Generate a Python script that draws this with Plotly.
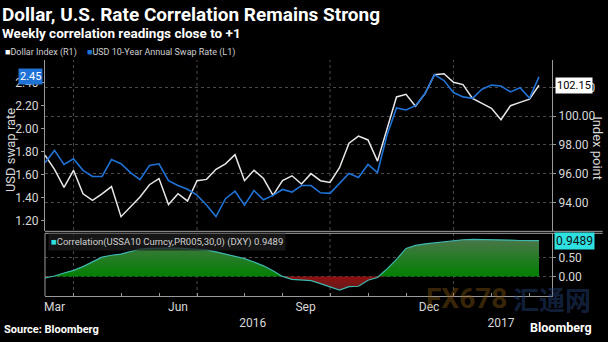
import pandas as pd
import plotly.graph_objects as go

# ---------------- data ----------------
dates = pd.date_range("2016-03-11", periods=53, freq="7D")

swap_rate = [1.704, 1.811, 1.689, 1.738, 1.638, 1.585, 1.585, 1.732, 1.695, 1.619,
             1.557, 1.681, 1.695, 1.548, 1.506, 1.474, 1.423, 1.338, 1.237, 1.392,
             1.457, 1.336, 1.463, 1.383, 1.421, 1.472, 1.449, 1.506, 1.506, 1.443,
             1.438, 1.528, 1.610, 1.576, 1.689, 1.619, 1.944, 2.179, 2.162, 2.199,
             2.304, 2.468, 2.417, 2.313, 2.275, 2.262, 2.341, 2.377, 2.369, 2.318,
             2.355, 2.264, 2.448]

dollar_index = [97.29, 96.30, 95.06, 96.24, 94.61, 94.16, 94.61, 95.11, 93.02, 93.70,
                94.38, 95.24, 95.67, 93.86, 94.61, 94.11, 95.52, 95.61, 96.31, 96.69,
                97.33, 95.52, 96.24, 95.67, 94.50, 95.52, 95.86, 95.29, 96.01, 95.52,
                95.40, 96.42, 98.12, 98.62, 98.35, 96.88, 99.03, 101.34, 101.52, 100.69,
                101.57, 102.88, 102.95, 102.36, 102.20, 101.23, 100.89, 100.55, 99.76, 100.73,
                100.96, 101.18, 102.15]

correlation = [-0.04, 0.01, 0.09, 0.16, 0.26, 0.39, 0.51, 0.56, 0.59, 0.66,
               0.72, 0.74, 0.75, 0.75, 0.75, 0.74, 0.73, 0.70, 0.65, 0.59,
               0.53, 0.47, 0.38, 0.28, 0.15, 0.00, -0.08, -0.10, -0.11, -0.19,
               -0.28, -0.36, -0.27, -0.26, -0.10, -0.03, 0.20, 0.45, 0.74, 0.82,
               0.86, 0.89, 0.92, 0.95, 0.97, 0.98, 0.98, 0.97, 0.96, 0.96,
               0.95, 0.95, 0.9489]

left_ticks = [1.2, 1.4, 1.6, 1.8, 2.0, 2.2, 2.4]
right_ticks = [94, 96, 98, 100, 102]
corr_ticks = [0.0, 0.5]
month_labels = ["Mar", "Jun", "Sep", "Dec"]
month_label_dates = ["2016-03-18", "2016-06-17", "2016-09-19", "2016-12-19"]
year_labels = ["2016", "2017"]
year_label_dates = ["2016-08-11", "2017-02-10"]

# derived
s_dates = pd.Series(dates)
month_starts = list(s_dates.groupby(s_dates.dt.to_period("M")).min())
month_starts = [d for d in month_starts if d != dates[0]]
quarter_lines = [d for d in month_starts if d.month in (1, 4, 7, 10)]
corr_pos = [max(c, 0) for c in correlation]
corr_neg = [min(c, 0) for c in correlation]

FONT = "Roboto"
TXT = "#d8d8d8"
GRID = "#4a4a4a"
AX = "#9a9a9a"
BLUE = "#1f72d6"
WHITE = "#e8e8e8"

fig = go.Figure()

fig.add_trace(go.Scatter(x=dates, y=dollar_index, mode="lines", name="Dollar Index (R1)",
                         line=dict(color=WHITE, width=1.5), xaxis="x", yaxis="y"))
fig.add_trace(go.Scatter(x=dates, y=swap_rate, mode="lines", name="USD 10-Year Annual Swap Rate (L1)",
                         line=dict(color=BLUE, width=1.6), xaxis="x", yaxis="y2"))

fig.add_trace(go.Scatter(x=dates, y=corr_pos, mode="lines", line=dict(width=0),
                         fill="tozeroy", fillcolor="rgb(18,122,18)",
                         fillgradient=dict(type="vertical", start=0, stop=1,
                                           colorscale=[[0, "rgb(0,128,0)"], [1, "rgb(75,118,75)"]]),
                         xaxis="x2", yaxis="y3", hoverinfo="skip"))
fig.add_trace(go.Scatter(x=dates, y=corr_neg, mode="lines", line=dict(width=0),
                         fill="tozeroy", fillcolor="rgb(125,18,18)",
                         fillgradient=dict(type="vertical", start=-0.4, stop=0,
                                           colorscale=[[0, "rgb(90,30,30)"], [1, "rgb(140,16,16)"]]),
                         xaxis="x2", yaxis="y3", hoverinfo="skip"))
fig.add_trace(go.Scatter(x=dates, y=correlation, mode="lines",
                         line=dict(color="#3fb8b0", width=1.2), xaxis="x2", yaxis="y3"))

x_range = ["2016-03-11", "2017-03-19 14:00"]
TOP_D = [0.274, 1.0]
BOT_D = [0.0, 0.2656]

fig.update_layout(
    width=608, height=342,
    margin=dict(l=45, r=56, t=60, b=41),
    paper_bgcolor="black", plot_bgcolor="black",
    showlegend=False,
    font=dict(family=FONT, color=TXT, size=11),
    xaxis=dict(domain=[0, 1], anchor="y", range=x_range, type="date",
               showticklabels=False, showgrid=False, ticks="", showline=False, zeroline=False),
    yaxis=dict(domain=TOP_D, anchor="x", side="right", range=[92.0, 103.905],
               tickvals=right_ticks, tickformat=".2f", showgrid=True, gridcolor=GRID,
               griddash="dot", gridwidth=1, ticks="outside", ticklen=3, tickcolor=AX,
               showline=True, linecolor=AX, linewidth=1, zeroline=False,
               tickfont=dict(size=12, color=TXT)),
    yaxis2=dict(overlaying="y", side="left", anchor="x", range=[1.109, 2.595],
                tickvals=left_ticks, tickformat=".2f", showgrid=False,
                ticks="outside", ticklen=3, tickcolor=AX, showline=True, linecolor=AX,
                linewidth=1, zeroline=False, tickfont=dict(size=12, color=TXT)),
    xaxis2=dict(domain=[0, 1], anchor="y3", matches="x", type="date",
                tickmode="array",
                tickvals=month_label_dates + year_label_dates,
                ticktext=month_labels + ["<br>" + y for y in year_labels],
                ticks="", showgrid=False, showline=True, linecolor=AX, linewidth=1,
                zeroline=False, tickfont=dict(size=12, color=TXT),
                minor=dict(tickmode="array", tickvals=month_starts, ticks="inside",
                           ticklen=3, tickcolor=AX, showgrid=False)),
    yaxis3=dict(domain=BOT_D, anchor="x2", side="right", range=[-0.518, 1.14],
                tickvals=corr_ticks, tickformat=".2f", showgrid=True, gridcolor=GRID,
                griddash="dot", ticks="outside", ticklen=3, tickcolor=AX,
                showline=True, linecolor=AX, linewidth=1, zeroline=False,
                tickfont=dict(size=12, color=TXT)),
)

shapes = []
for d in quarter_lines:
    shapes.append(dict(type="line", xref="x", yref="paper", x0=d, x1=d, y0=0, y1=1,
                       line=dict(color=GRID, width=1, dash="dot"), layer="below"))
shapes.append(dict(type="line", xref="paper", yref="paper", x0=0, x1=1.1, y0=TOP_D[0], y1=TOP_D[0],
                   line=dict(color="#a0a0a0", width=1)))
shapes.append(dict(type="line", xref="paper", yref="paper", x0=0, x1=1.1, y0=BOT_D[1], y1=BOT_D[1],
                   line=dict(color="#a0a0a0", width=1)))
shapes.append(dict(type="line", xref="paper", yref="paper", x0=0, x1=0, y0=BOT_D[0], y1=BOT_D[1],
                   line=dict(color=AX, width=1)))
fig.update_layout(shapes=shapes)

ann = []
# titles
ann.append(dict(text="<b>Dollar, U.S. Rate Correlation Remains Strong</b>", xref="paper", yref="paper",
                x=-45/507, y=1 + 46/241, xanchor="left", yanchor="middle", showarrow=False,
                font=dict(size=19, color="white", family=FONT)))
ann.append(dict(text="<b>Weekly correlation readings close to +1</b>", xref="paper", yref="paper",
                x=-45/507, y=1 + 28/241, xanchor="left", yanchor="middle", showarrow=False,
                font=dict(size=13.5, color="white", family=FONT)))
# legend
ann.append(dict(text="<span style='color:white'>■</span>Dollar Index (R1)", xref="paper", yref="paper",
                x=-42/507, y=1 + 8/241, xanchor="left", yanchor="middle", showarrow=False,
                font=dict(size=9, color="#cfcfcf", family=FONT)))
ann.append(dict(text=f"<span style='color:{BLUE}'>■</span>USD 10-Year Annual Swap Rate (L1)", xref="paper",
                yref="paper", x=40/507, y=1 + 8/241, xanchor="left", yanchor="middle", showarrow=False,
                font=dict(size=9, color="#cfcfcf", family=FONT)))
# axis titles
ann.append(dict(text="USD swap rate", xref="paper", yref="paper", x=-35/507, y=(301 - 152) / 241,
                textangle=-90, showarrow=False, xanchor="center", yanchor="middle",
                font=dict(size=13, color=TXT, family=FONT)))
ann.append(dict(text="Index point", xref="paper", yref="paper", x=1 + 46/507, y=(301 - 150) / 241,
                textangle=90, showarrow=False, xanchor="center", yanchor="middle",
                font=dict(size=13, color=TXT, family=FONT)))
# value tags
ann.append(dict(text=f"{swap_rate[-1]:.2f}", xref="paper", yref="y2", x=0, y=swap_rate[-1],
                xanchor="right", yanchor="middle", showarrow=False, xshift=-2,
                bgcolor=BLUE, borderpad=1, font=dict(size=11, color="white", family=FONT)))
ann.append(dict(text=f"{dollar_index[-1]:.2f}", xref="paper", yref="y", x=1, y=dollar_index[-1],
                xanchor="left", yanchor="middle", showarrow=False, xshift=3,
                bgcolor="white", borderpad=1, font=dict(size=11, color="black", family=FONT)))
ann.append(dict(text=f"{correlation[-1]:.4f}", xref="paper", yref="y3", x=1, y=correlation[-1],
                xanchor="left", yanchor="middle", showarrow=False, xshift=2,
                bgcolor="#2fe0e0", borderpad=1, font=dict(size=12, color="#101010", family=FONT)))
# bottom legend
ann.append(dict(text=f"<span style='color:#2fe0e0'>■</span>Correlation(USSA10 Curncy,PR005,30,0) (DXY) {correlation[-1]:.4f}",
                xref="paper", yref="paper", x=3/507, y=(301 - 246) / 241, xanchor="left", yanchor="middle",
                showarrow=False, bgcolor="rgba(30,30,30,0.75)", borderpad=2,
                font=dict(size=9.5, color="#d0d0d0", family=FONT)))
# source / branding
ann.append(dict(text="<b>Source: Bloomberg</b>", xref="paper", yref="paper", x=-43/507, y=-34/241,
                xanchor="left", yanchor="middle", showarrow=False,
                font=dict(size=11, color="white", family=FONT)))
ann.append(dict(text="<b>Bloomberg</b>", xref="paper", yref="paper", x=1 + 42/507, y=-32/241,
                xanchor="right", yanchor="middle", showarrow=False,
                font=dict(size=12.5, color="white", family=FONT)))
# watermark
ann.append(dict(text="<b>FX678</b>", xref="paper", yref="paper", x=(466 - 45) / 507, y=(301 - 304) / 241,
                xanchor="center", yanchor="middle", showarrow=False,
                font=dict(size=28, color="rgba(150,100,20,0.40)", family=FONT)))
ann.append(dict(text="<b>汇通网</b>", xref="paper", yref="paper", x=(552 - 45) / 507, y=(301 - 304) / 241,
                xanchor="center", yanchor="middle", showarrow=False,
                font=dict(size=26, color="rgba(40,70,130,0.45)", family="Noto Sans CJK SC")))
fig.update_layout(annotations=ann)

fig.write_html("out.html")
